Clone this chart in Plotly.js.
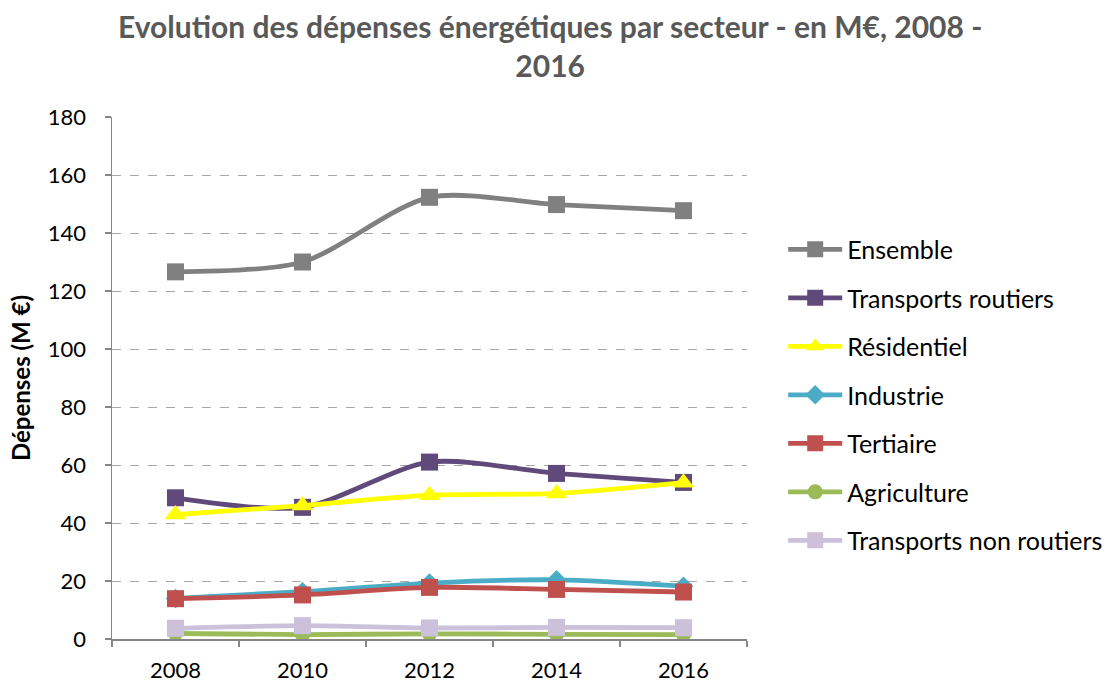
<!DOCTYPE html>
<html>
<head>
<meta charset="utf-8">
<script src="https://cdn.plot.ly/plotly-3.0.1.min.js"></script>
<style>html,body{margin:0;padding:0;background:#fff;}#chart{width:1107px;height:684px;}</style>
</head>
<body>
<div id="chart"></div>
<script>
const years = ["2008", "2010", "2012", "2014", "2016"];
const seriesNames = ["Ensemble", "Transports routiers", "Résidentiel", "Industrie", "Tertiaire", "Agriculture", "Transports non routiers"];
const ensemble = [126.6, 130.0, 152.3, 149.8, 147.7];
const transportsRoutiers = [48.7, 45.4, 61.0, 57.1, 54.0];
const residentiel = [42.9, 46.0, 49.6, 50.2, 53.9];
const industrie = [14.0, 16.3, 19.3, 20.4, 18.2];
const tertiaire = [13.9, 15.2, 17.8, 17.1, 16.2];
const agriculture = [1.9, 1.5, 1.8, 1.6, 1.5];
const transportsNonRoutiers = [3.7, 4.6, 3.8, 4.0, 3.9];
const yTicks = [0, 20, 40, 60, 80, 100, 120, 140, 160, 180];

const values = [ensemble, transportsRoutiers, residentiel, industrie, tertiaire, agriculture, transportsNonRoutiers];
const colors = ["#808080", "#604a7b", "#ffff00", "#4bacc6", "#c0504d", "#9bbb59", "#ccc1da"];
const symbols = ["square", "square", "triangle-up", "diamond", "square", "circle", "square"];
const sizes = [17, 17, 19, 15, 17, 15, 17];

const traces = seriesNames.map((n, i) => ({
  type: "scatter",
  mode: "lines+markers",
  name: n,
  legendgroup: "g" + i,
  x: years,
  y: values[i],
  line: {color: colors[i], width: 4.8, shape: "spline", smoothing: 0.8},
  marker: {symbol: symbols[i], size: sizes[i], color: colors[i]},
  hoverinfo: "x+y+name"
}));

const font = "Lato, 'Noto Sans', sans-serif";
const layout = {
  width: 1107, height: 684,
  paper_bgcolor: "#fff", plot_bgcolor: "#fff",
  margin: {l: 112, r: 360, t: 117, b: 45, autoexpand: false},
  font: {family: font, color: "#000", size: 22},
  title: {
    text: "<b>Evolution des dépenses énergétiques par secteur - en M€, 2008 -<br>2016</b>",
    font: {family: font, size: 30, color: "#595959"},
    xref: "container", yref: "container",
    x: 0.497, xanchor: "center", y: 0.945, yanchor: "middle"
  },
  xaxis: {
    type: "category",
    range: [-0.5, 4.5],
    showline: true, linecolor: "#868686", linewidth: 1.5,
    ticks: "outside", tickson: "boundaries", ticklen: 6, tickcolor: "#868686", tickwidth: 1.5,
    showgrid: false, zeroline: false,
    tickfont: {family: font, size: 22, color: "#000"},
    ticklabelstandoff: 11
  },
  yaxis: {
    range: [0, 180],
    tickvals: yTicks,
    showline: true, linecolor: "#868686", linewidth: 1.5,
    ticks: "outside", ticklen: 6, tickcolor: "#868686", tickwidth: 1.5,
    showgrid: true, gridcolor: "#a6a6a6", griddash: "dash", gridwidth: 1,
    zeroline: false,
    tickfont: {family: font, size: 22, color: "#000"},
    ticklabelstandoff: 14,
    title: {text: "<b>Dépenses (M €)</b>", font: {family: font, size: 24, color: "#000"}, standoff: 10}
  },
  legend: {
    x: 1.057, xanchor: "left", y: 0.79, yanchor: "top",
    font: {family: font, size: 25, color: "#000"},
    tracegroupgap: 13,
    itemwidth: 54,
    bgcolor: "rgba(0,0,0,0)"
  },
  showlegend: true
};

Plotly.newPlot("chart", traces, layout, {staticPlot: true, displayModeBar: false});
</script>
</body>
</html>
